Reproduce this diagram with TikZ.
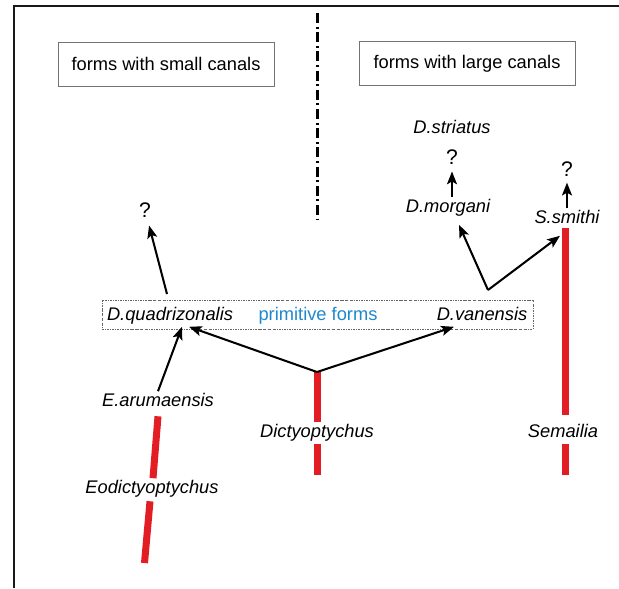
\documentclass[tikz,border=0pt]{standalone}
\usepackage{fontspec}
\setmainfont{Liberation Sans}
\usetikzlibrary{arrows.meta,calc}

\definecolor{rangered}{RGB}{226,30,36}
\definecolor{primblue}{RGB}{30,136,206}
\newcommand\labelsize{\fontsize{13}{15.6}\selectfont}
\newcommand\qsize{\fontsize{15}{18}\selectfont}

\begin{document}
\begin{tikzpicture}[x=0.025cm, y=-0.025cm,
    taxon/.style={font=\labelsize\itshape, inner sep=0.05cm, text height=0.325cm, text depth=0.1cm},
    qmark/.style={font=\qsize, inner sep=0.05cm},
    canalbox/.style={draw=black!55, line width=0.5pt, font=\labelsize, minimum width=5.4cm, minimum height=1.1cm},
    arr/.style={line width=1.45pt, -{Stealth[length=0.32cm, width=0.25cm, inset=0.07cm]}},
    rangebar/.style={line width=0.175cm, rangered},
    ]
    \def\range#1#2{%
        \draw[rangebar] #1 -- #2;
    }

    \useasboundingbox (0,0) rectangle (619,588);
    % frame, top and left only
    \draw[line width=0.055cm, black!90] (619,6) -- (14,6) -- (14,588);

    % the two groups
    \node[canalbox] (small) at (166,64) {forms with small canals};
    \node[canalbox] (large) at (467,63.5) {forms with large canals};
    \coordinate (divtop) at (317,13);
    \coordinate (divbot) at (317,219);
    \draw[line width=0.075cm, dash pattern=on 0.25cm off 0.09cm on 0.05cm off 0.09cm] (divtop) -- (divbot);

    % primitive forms
    \node[draw=black!60, line width=0.4pt, dash pattern=on 1.5pt off 0.8pt on 0.4pt off 0.8pt,
        minimum width=10.775cm, minimum height=0.725cm] (primbox) at (317.5,314.5) {};
    \node[taxon] (quadri) at (170,316) {D.quadrizonalis};
    \node[taxon, font=\labelsize, text=primblue] (primitive) at (318,316) {primitive forms};
    \node[taxon] (vanensis) at (482,316) {D.vanensis};

    % large canals
    \node[taxon] (striatus) at (452,129) {D.striatus};
    \node[qmark] (qmorg) at (452,157) {?};
    \node[taxon] (morgani) at (448,208) {D.morgani};
    \node[qmark] (qsmith) at (567,169) {?};
    \node[taxon] (smithi) at (567,219) {S.smithi};
    \node[taxon] (semailia) at (563,433) {Semailia};

    % small canals
    \node[qmark] (qquad) at (145,210) {?};
    \node[taxon] (earu) at (158,402) {E.arumaensis};
    \node[taxon] (eodic) at (152,489) {Eodictyoptychus};
    \node[taxon] (dictyo) at (317,433) {Dictyoptychus};

    \coordinate (qbase) at (167,294);
    \coordinate (vsplit) at (488,290);
    \coordinate (dsplit) at (317,372);
    \coordinate (dbot) at (317,475);
    \coordinate (sbot) at (565,475);
    \coordinate (ebot) at (144.5,563);

    % ranges
    \range{(dsplit)}{(dictyo.north)}
    \range{(dictyo.south)}{(dbot)}
    \range{($(smithi.south)+(-2,-2)$)}{($(semailia.north)+(2,-7)$)}
    \range{($(semailia.south)+(2,0)$)}{(sbot)}
    \range{($(earu.south)+(0,3.5)$)}{($(eodic.north)+(1,0)$)}
    \range{($(eodic.south)+(-2,1.5)$)}{(ebot)}

    % arrows
    \draw[arr, shorten >=0.12cm] (morgani.north -| qmorg) -- (qmorg.south);
    \draw[arr, shorten >=0.1cm] (smithi) -- (qsmith);
    \draw[arr, shorten >=0.15cm] (qbase) -- (qquad);
    \draw[arr] (vsplit) -- ($(morgani.south)+(11,6)$);
    \draw[arr] (vsplit) -- ($(smithi.south)+(-7,6)$);
    \draw[arr] (dsplit) -- ($(quadri.south)+(19,0)$);
    \draw[arr] (dsplit) -- ($(vanensis.south)+(-28,0)$);
    \draw[arr] (earu.north) -- ($(quadri.south)+(12,0)$);

\end{tikzpicture}
\end{document}
